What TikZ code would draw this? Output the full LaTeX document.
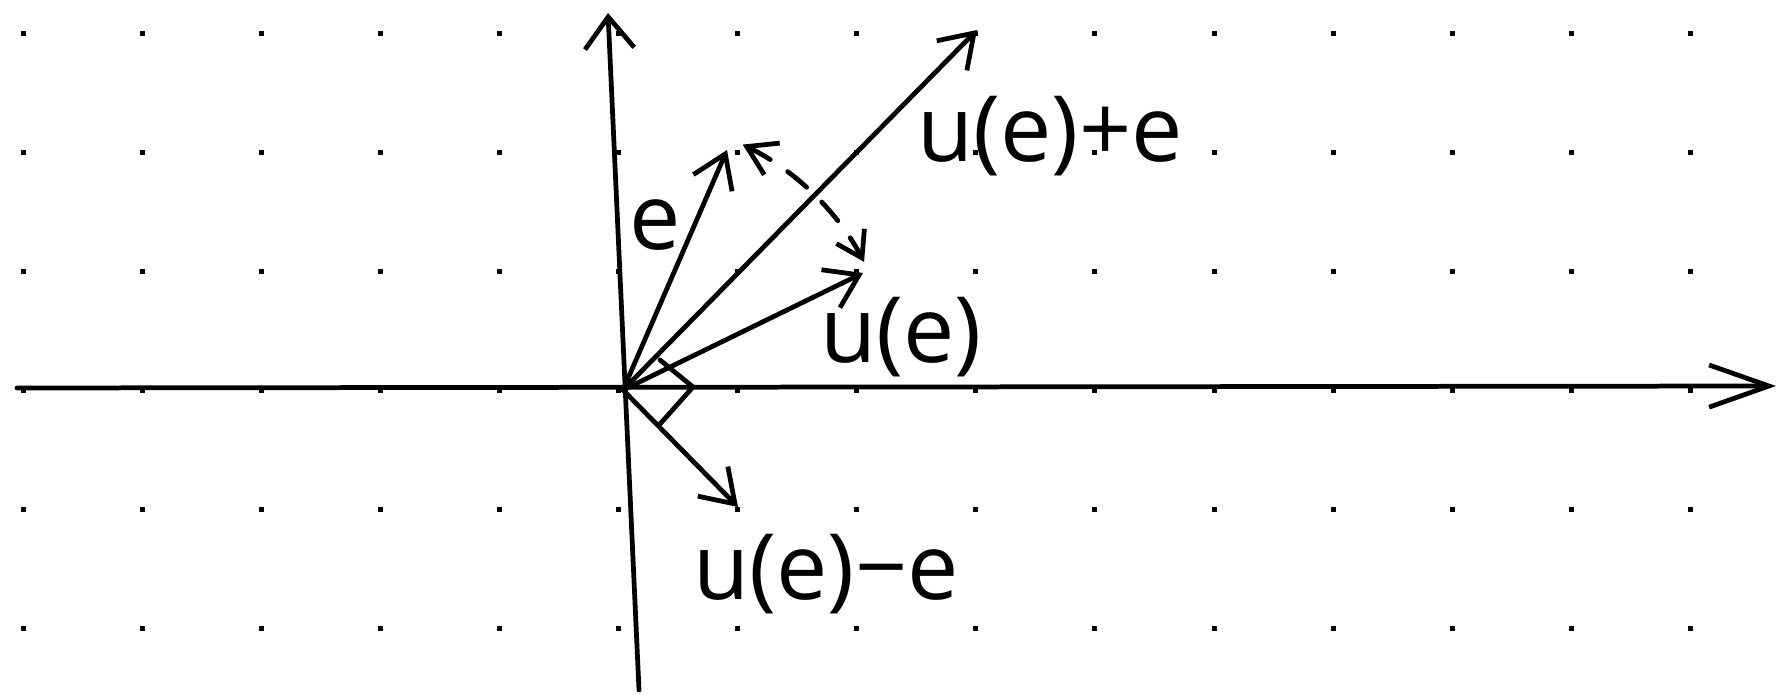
\documentclass[tikz,border=0pt]{standalone}
\usepackage{fontspec}
\setmainfont{Open Sans}
\usetikzlibrary{arrows.meta,calc}
\tikzset{
  stroke/.style={line width=1.35pt, line cap=round, line join=round},
  vec/.style={stroke, -{Straight Barb[length=9pt,width=12pt]}},
  lbl/.style={font=\fontsize{26}{30}\selectfont, inner sep=0pt, anchor=base},
  gdot/.style={fill=black},
}
\begin{document}
\begin{tikzpicture}[x=0.01cm,y=-0.01cm]
\useasboundingbox (0,0) rectangle (1779,695);
\fill[white] (0,0) rectangle (1779,695);
% grid dots
\foreach \i in {0,...,14} \foreach \j in {0,...,5} {
  \fill[gdot] ({23+119.1*\i-2.5},{34+119*\j-2.5}) rectangle ++(5,5);
}
% points
\coordinate (O) at (623,390);
\coordinate (E) at (727,150);
\coordinate (UE) at (863,273);
\coordinate (UPE) at (977,30);
\coordinate (UME) at (738,507);
\coordinate (XL) at (17,388);
\coordinate (XR) at (1776,386);
\coordinate (YB) at (639,690);
\coordinate (YT) at (608,13);
\coordinate (R1) at (660,360);
\coordinate (R2) at (693,387);
\coordinate (R3) at (660,424);
% axes
\draw[stroke, -{Straight Barb[length=9pt,width=14pt]}] (YB) -- (YT);
\draw[stroke, -{Straight Barb[length=17pt,width=12pt]}] (XL) -- (XR);
% vectors
\draw[vec] (O) -- (E);
\draw[vec] (O) -- (UPE);
\draw[vec] (O) -- (UE);
\draw[vec] (O) -- (UME);
% right angle mark
\draw[stroke] (R1) -- (R2) -- (R3);
% dashed rotation arc
\draw[stroke, dash pattern=on 7pt off 6pt,
      {Straight Barb[length=8pt,width=10pt]}-{Straight Barb[length=7pt,width=9pt]}]
  ($(O)+(-64:273)$) arc[start angle=-64, end angle=-28, radius=273];
% labels
\node[lbl] (Lupe) at (1050,162) {u(e)+e};
\node[lbl] (Lue) at (901,363) {u(e)};
\node[lbl] (Lume) at (826,600) {u(e)−e};
\node[lbl] (Le) at (655,250) {e};
\end{tikzpicture}
\end{document}
